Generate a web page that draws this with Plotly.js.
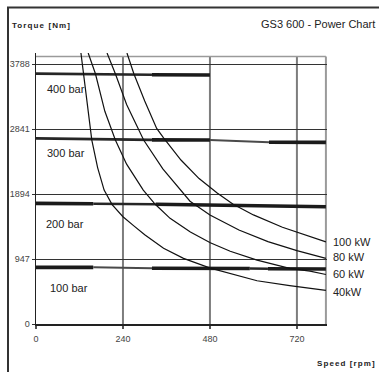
<!DOCTYPE html>
<html>
<head>
<meta charset="utf-8">
<script src="https://cdn.plot.ly/plotly-3.0.1.min.js"></script>
<style>
html,body{margin:0;padding:0;background:#fff;}
#chart{width:379px;height:372px;}
</style>
</head>
<body>
<div id="chart"></div>
<script>
// ---- data ----
const xTicks = [0, 240, 480, 720];
const yTicks = [0, 947, 1894, 2841, 3788];

// constant power curves (rpm, Nm)
const rpm40 = [124, 131, 143, 154, 170, 188, 210, 240, 270, 300, 352, 407, 481, 536, 610, 700, 800];
const nm40  = [3950, 3647, 3150, 2681, 2280, 1952, 1740, 1563, 1430, 1300, 1103, 957, 815, 739, 630, 560, 490];
const rpm60 = [144, 164, 190, 219, 250, 296, 329, 370, 426, 481, 536, 610, 700, 756, 800];
const nm60  = [3950, 3647, 3100, 2681, 2330, 1952, 1745, 1540, 1340, 1185, 1060, 930, 812, 770, 722];
const rpm80 = [196, 219, 250, 297, 350, 398, 425, 480, 560, 640, 720, 800];
const nm80  = [3950, 3647, 3200, 2681, 2260, 1952, 1790, 1590, 1370, 1200, 1070, 957];
const rpm100 = [251, 270, 300, 333, 352, 400, 450, 500, 543, 600, 680, 800];
const nm100  = [3950, 3647, 3250, 2850, 2713, 2390, 2120, 1910, 1750, 1590, 1410, 1198];
const powerLabels = ['40kW', '60 kW', '80 kW', '100 kW'];
const powerLabelNm = [471, 729, 972, 1191];

// pressure lines (rpm, Nm) and segment weights
const bar400Rpm = [0, 320, 480];
const bar400Nm  = [3650, 3632, 3630];
const bar400Seg = ['med', 'thick'];
const bar300Rpm = [0, 320, 480, 643, 800];
const bar300Nm  = [2705, 2684, 2681, 2650, 2647];
const bar300Seg = ['med', 'thick', 'thin', 'thick'];
const bar200Rpm = [0, 158, 330, 800];
const bar200Nm  = [1758, 1752, 1745, 1709];
const bar200Seg = ['thick', 'med', 'thick'];
const bar100Rpm = [0, 158, 320, 590, 640, 800];
const bar100Nm  = [826, 826, 812, 808, 806, 801];
const bar100Seg = ['thick', 'thin', 'thick', 'med', 'thick'];
const barLabels = ['400 bar', '300 bar', '200 bar', '100 bar'];
const barLabelNm = [3425, 2493, 1458, 525];
const barLabelRpm = [25, 25, 22, 33];

// ---- styles ----
const segStyle = {
  thick: {width: 3.6, color: '#1b1b1b'},
  med:   {width: 2.6, color: '#262626'},
  thin:  {width: 2.0, color: '#4a4a4a'}
};

const traces = [];
function addPressure(rpm, nm, seg) {
  for (let i = 0; i < seg.length; i++) {
    traces.push({
      type: 'scatter', mode: 'lines',
      x: [rpm[i], rpm[i + 1]], y: [nm[i], nm[i + 1]],
      line: segStyle[seg[i]], hoverinfo: 'skip', showlegend: false
    });
  }
}
addPressure(bar400Rpm, bar400Nm, bar400Seg);
addPressure(bar300Rpm, bar300Nm, bar300Seg);
addPressure(bar200Rpm, bar200Nm, bar200Seg);
addPressure(bar100Rpm, bar100Nm, bar100Seg);

[[rpm40, nm40], [rpm60, nm60], [rpm80, nm80], [rpm100, nm100]].forEach(function (c) {
  traces.push({
    type: 'scatter', mode: 'lines', x: c[0], y: c[1],
    line: {width: 1.2, color: '#111'}, hoverinfo: 'skip', showlegend: false
  });
});

const W = 379, H = 372, L = 36, R = 52, T = 53, B = 48;
const pw = W - L - R, ph = H - T - B;
function px(xp) { return (xp - L) / pw; }
function py(yp) { return (H - B - yp) / ph; }

const shapes = [];
// vertical grid lines up to the top border
[240, 480, 720].forEach(function (v) {
  shapes.push({type: 'line', xref: 'x', yref: 'y', x0: v, x1: v, y0: 0, y1: 3900,
    line: {color: '#7d7d7d', width: 2}, layer: 'below'});
});
// top and right borders of the plot
shapes.push({type: 'line', xref: 'x', yref: 'y', x0: 0, x1: 800, y0: 3900, y1: 3900,
  line: {color: '#9a9a9a', width: 1.6}, layer: 'below'});
shapes.push({type: 'line', xref: 'x', yref: 'y', x0: 800, x1: 800, y0: 0, y1: 3900,
  line: {color: '#9a9a9a', width: 2}, layer: 'below'});
// outer frame (left and top)
shapes.push({type: 'line', xref: 'paper', yref: 'paper', x0: px(8), x1: px(8), y0: py(7.5), y1: py(380),
  line: {color: '#333', width: 2}});
shapes.push({type: 'line', xref: 'paper', yref: 'paper', x0: px(7), x1: px(390), y0: py(7.5), y1: py(7.5),
  line: {color: '#333', width: 2}});

const annotations = [];
barLabels.forEach(function (t, i) {
  annotations.push({x: barLabelRpm[i], y: barLabelNm[i], xref: 'x', yref: 'y', text: t,
    showarrow: false, xanchor: 'left', yanchor: 'middle',
    font: {family: 'Liberation Sans, Arial, sans-serif', size: 11, color: '#222'}});
});
powerLabels.forEach(function (t, i) {
  annotations.push({x: px(331), y: powerLabelNm[i], xref: 'paper', yref: 'y', text: t,
    showarrow: false, xanchor: 'left', yanchor: 'middle',
    font: {family: 'Liberation Sans, Arial, sans-serif', size: 11, color: '#222'}});
});
annotations.push({x: px(377), y: py(24), xref: 'paper', yref: 'paper', text: 'GS3 600 - Power Chart',
  showarrow: false, xanchor: 'right', yanchor: 'middle',
  font: {family: 'Liberation Sans, Arial, sans-serif', size: 11, color: '#222'}});
annotations.push({x: px(41.5), y: py(25), xref: 'paper', yref: 'paper', text: '<b>Torque [Nm]</b>',
  showarrow: false, xanchor: 'center', yanchor: 'middle',
  font: {family: 'Liberation Sans, Arial, sans-serif', size: 8, color: '#222'}});
annotations.push({x: px(346), y: py(363), xref: 'paper', yref: 'paper', text: '<b>Speed [rpm]</b>',
  showarrow: false, xanchor: 'center', yanchor: 'middle',
  font: {family: 'Liberation Sans, Arial, sans-serif', size: 8, color: '#222'}});

const layout = {
  width: W, height: H,
  margin: {l: L, r: R, t: T, b: B, pad: 0},
  paper_bgcolor: '#fff', plot_bgcolor: '#fff',
  showlegend: false,
  font: {family: 'Liberation Sans, Arial, sans-serif', size: 9, color: '#444'},
  xaxis: {
    range: [0, 803], tickvals: xTicks, ticktext: xTicks.map(String),
    showgrid: false, zeroline: false, showline: true, linecolor: '#222', linewidth: 1.5,
    ticks: 'outside', ticklen: 3, tickcolor: '#555', tickwidth: 1.5,
    ticklabelstandoff: 3,
    tickfont: {size: 9, color: '#444'}, fixedrange: true
  },
  yaxis: {
    range: [0, 3950], tickvals: yTicks, ticktext: yTicks.map(String),
    showgrid: true, gridcolor: '#333', gridwidth: 1,
    zeroline: false, showline: true, linecolor: '#222', linewidth: 1.5,
    ticks: 'outside', ticklen: 3, tickcolor: '#333', tickwidth: 1,
    tickfont: {size: 9, color: '#444'}, fixedrange: true
  },
  shapes: shapes,
  annotations: annotations
};

Plotly.newPlot('chart', traces, layout, {displayModeBar: false, staticPlot: true}).then(function () {
  document.querySelectorAll('.annotation-text').forEach(function (el) {
    const t = el.textContent;
    if (t === 'Torque [Nm]' || t === 'Speed [rpm]') {
      el.style.letterSpacing = '1.1px';
    }
  });
});
</script>
</body>
</html>
